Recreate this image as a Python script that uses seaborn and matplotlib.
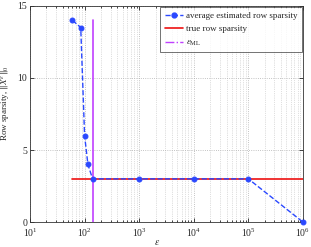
import matplotlib
matplotlib.use("Agg")
import matplotlib.pyplot as plt
from matplotlib.lines import Line2D
import numpy as np
import pandas as pd
import seaborn as sns

EPS = [60, 85, 100, 115, 140, 1e3, 1e4, 1e5, 1e6]
AVG_SPARSITY = [14, 13.5, 6, 4, 3, 3, 3, 3, 0]
TRUE_SPARSITY = 3
TRUE_RANGE = [60, 1e6]
EPS_ML = 140
EPS_ML_TOP = 14

BLUE = "#2a48ff"
RED = "#ee1111"
MAGENTA = "#c040ff"

sns.set_style("ticks")
plt.rcParams["font.family"] = ["Liberation Serif", "DejaVu Serif"]
plt.rcParams["mathtext.fontset"] = "stix"

df = pd.DataFrame({"eps": EPS, "sparsity": AVG_SPARSITY})

fig = plt.figure(figsize=(3.11, 2.47), dpi=100)
ax = fig.add_axes([0.0965, 0.101, 0.8775, 0.875])

sns.lineplot(data=df, x="eps", y="sparsity", ax=ax, color=BLUE,
             linestyle="--", linewidth=1.0, marker="o", markersize=3.5,
             markeredgecolor=BLUE, clip_on=False, zorder=4)
ax.plot(TRUE_RANGE, [TRUE_SPARSITY, TRUE_SPARSITY], color=RED, lw=1.2, zorder=3)
ax.plot([EPS_ML, EPS_ML], [0, EPS_ML_TOP], color=MAGENTA, lw=1.2, zorder=3)

ax.set_xscale("log")
ax.set_xlim(10, 1e6)
ax.set_ylim(0, 15)
ax.set_yticks([0, 5, 10, 15])
ax.set_xticks([1e1, 1e2, 1e3, 1e4, 1e5, 1e6])
ax.tick_params(which="both", direction="in", top=True, right=True,
               labelsize=7, length=3, width=0.6, pad=2)
ax.tick_params(axis="x", which="major", pad=3)
ax.tick_params(which="minor", length=1.5)
ax.grid(True, which="major", linestyle=":", color="#b0b0b0", lw=0.6)
ax.grid(True, which="minor", axis="x", linestyle=":", color="#c0c0c0", lw=0.5)
for s in ax.spines.values():
    s.set_linewidth(0.6)
    s.set_color("#333333")

ax.set_xlabel(r"$\varepsilon$", fontsize=7)
ax.set_ylabel(r"Row sparsity, $\|X^{\varepsilon}\|_{0}$", fontsize=6.5)
ax.xaxis.set_label_coords(0.466, -0.075)
ax.yaxis.set_label_coords(-0.066, 0.55)

handles = [
    Line2D([], [], color=BLUE, linestyle="--", marker="o", markersize=3.5, lw=1.0),
    Line2D([], [], color=RED, lw=1.2),
    Line2D([], [], color=MAGENTA, linestyle="-.", lw=1.0),
]
labels = ["average estimated row sparsity", "true row sparsity",
          r"$\varepsilon_{\mathrm{ML}}$"]
leg = ax.legend(handles, labels, loc="upper right", fontsize=6.5,
                frameon=True, fancybox=False, edgecolor="#333333",
                handlelength=2.0, borderpad=0.5, labelspacing=0.55,
                handletextpad=0.3, borderaxespad=0.15)
leg.get_frame().set_linewidth(0.6)

fig.savefig("out.png", dpi=100)
